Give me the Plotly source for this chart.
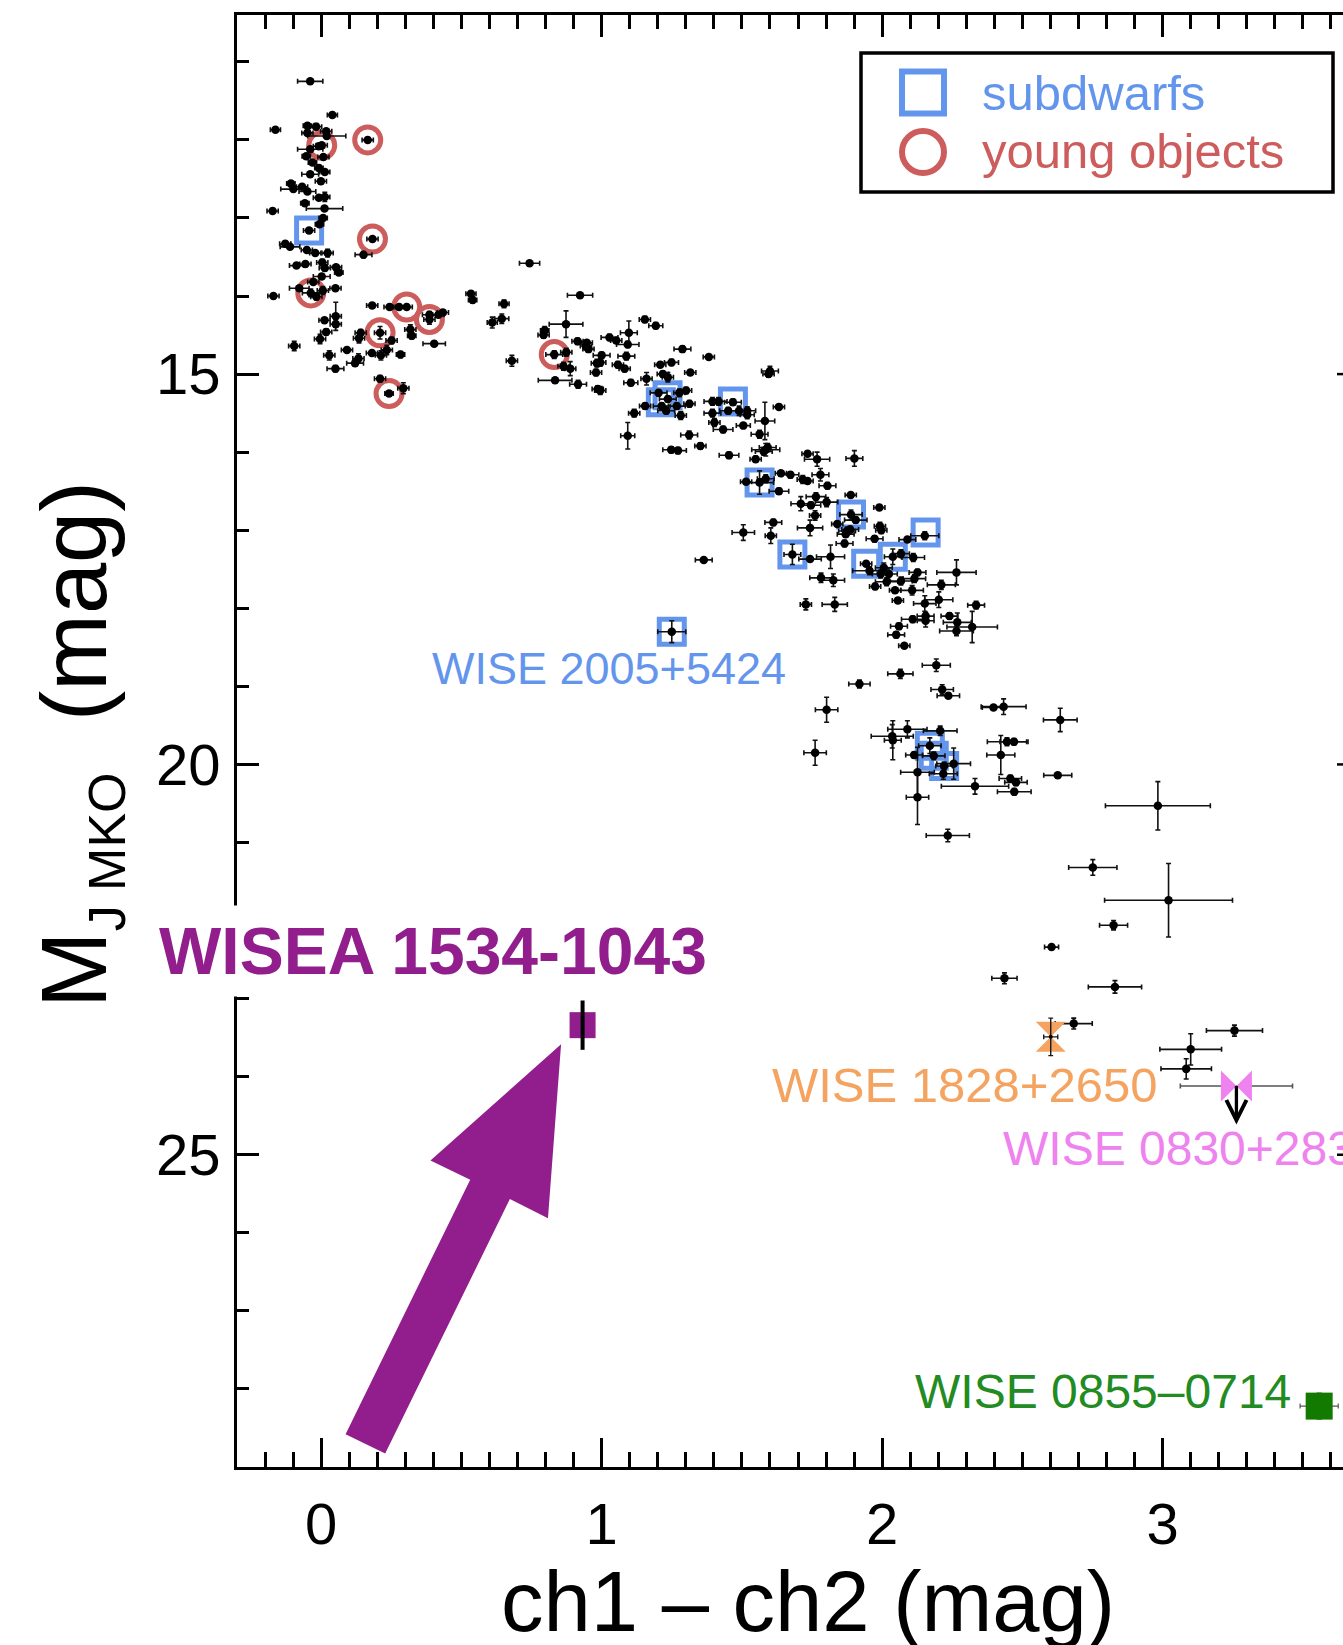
import plotly.graph_objects as go

FONT = "Liberation Sans, Arial, Helvetica, sans-serif"

# ---------------------------------------------------------------------------
# Field L/T/Y dwarfs: Spitzer ch1-ch2 colour, absolute J (MKO) and 1-sigma errors
# ---------------------------------------------------------------------------
field_color = [
    -0.039, 0.040, -0.163, -0.049, -0.018, -0.049, 0.018, 0.020, -0.008, 0.002,
    0.166, -0.039, 0.008, -0.053, -0.031, -0.008, 0.013, -0.039, -0.001, -0.108,
    -0.068, -0.099, -0.049, -0.008, 0.013, -0.058, -0.173, 0.012, 0.007, -0.006,
    -0.043, 0.183, -0.128, -0.111, -0.051, -0.021, 0.023, 0.151, -0.088, -0.056,
    0.004, 0.013, 0.053, 0.063, 0.002, -0.170, -0.078, -0.028, -0.037, -0.017,
    0.006, 0.051, 0.182, 0.244, 0.278, 0.305, 0.386, 0.386, 0.418, 0.434,
    0.210, 0.052, 0.052, 0.012, 0.018, -0.004, -0.096, 0.029, 0.051, 0.092,
    0.141, 0.135, 0.133, 0.121, 0.181, 0.213, 0.234, 0.251, 0.283, 0.318,
    0.323, 0.403, 0.210, 0.242, 0.293, 0.534, 0.540, 0.652, 0.610, 0.644,
    0.743, 0.680, 0.923, 0.797, 0.793, 0.873, 0.831, 0.874, 0.864, 0.888,
    0.834, 0.916, 0.914, 0.944, 0.953, 0.947, 1.000, 0.983, 0.995, 0.980,
    0.986, 0.995, 1.028, 1.052, 1.097, 1.093, 1.088, 1.058, 1.082, 1.104,
    1.160, 1.154, 1.193, 1.288, 1.249, 1.209, 1.218, 1.236, 1.316, 1.382,
    1.203, 1.277, 1.301, 1.236, 1.214, 1.268, 1.230, 1.282, 1.313, 1.155,
    1.116, 1.093, 1.312, 1.248, 1.272, 1.352, 1.364, 1.250, 1.600, 1.595,
    1.395, 1.417, 1.468, 1.395, 1.451, 1.490, 1.519, 1.519, 1.402, 1.433,
    1.505, 1.582, 1.632, 1.563, 1.454, 1.549, 1.585, 1.592, 1.578, 1.734,
    1.768, 1.901, 1.563, 1.515, 1.585, 1.639, 1.673, 1.717, 1.734, 1.780,
    1.805, 1.632, 1.710, 1.746, 1.764, 1.802, 1.761, 1.743, 1.888, 1.990,
    1.612, 1.505, 1.603, 1.889, 1.906, 1.840, 1.875, 1.886, 1.870, 1.866,
    1.992, 1.997, 1.973, 2.090, 2.152, 1.680, 1.743, 1.816, 1.943, 1.955,
    1.995, 2.024, 2.038, 2.067, 2.111, 2.006, 2.126, 2.265, 2.211, 2.115,
    2.067, 2.016, 1.975, 2.046, 2.107, 1.782, 1.826, 2.056, 2.152, 2.202,
    2.335, 1.728, 1.831, 2.109, 2.155, 2.155, 2.240, 2.268, 2.321, 2.265,
    2.060, 2.050, 2.079, 2.193, 2.065, 1.919, 2.214, 2.236, 1.802, 1.761,
    2.397, 2.433, 2.635, 2.090, 2.036, 2.038, 2.207, 2.170, 2.114, 2.184,
    2.255, 2.221, 2.126, 2.126, 2.218, 2.331, 2.423, 2.445, 2.470, 2.457,
    2.477, 2.471, 2.626, 2.983, 2.234, 2.751, 3.021, 2.825, 2.604, 2.436,
    2.830, 2.683, 3.256, 3.100, 3.084,
]
field_mag = [
    11.25, 11.68, 11.87, 11.82, 11.83, 11.91, 11.89, 11.95, 12.08, 12.07,
    12.00, 12.12, 12.22, 12.21, 12.29, 12.36, 12.41, 12.44, 12.53, 12.56,
    12.60, 12.63, 12.66, 12.74, 12.73, 12.81, 12.91, 12.88, 13.00, 13.08,
    13.16, 13.27, 13.33, 13.37, 13.41, 13.45, 13.45, 13.47, 13.61, 13.59,
    13.57, 13.64, 13.63, 13.70, 13.75, 14.00, 13.90, 13.82, 13.96, 14.01,
    13.93, 13.90, 14.12, 14.14, 14.14, 14.14, 14.24, 14.30, 14.24, 14.21,
    14.47, 14.26, 14.36, 14.31, 14.46, 14.55, 14.64, 14.76, 14.93, 14.69,
    14.47, 14.54, 14.80, 14.86, 14.73, 14.76, 14.69, 14.57, 14.75, 14.43,
    14.51, 14.61, 15.06, 15.25, 15.18, 13.97, 14.05, 14.10, 14.34, 14.29,
    13.58, 14.83, 13.99, 14.44, 14.50, 14.36, 14.75, 14.72, 14.90, 14.93,
    15.08, 15.13, 14.58, 14.64, 14.68, 14.60, 14.76, 14.86, 14.85, 14.98,
    15.19, 15.21, 14.53, 14.57, 14.47, 14.62, 14.77, 14.88, 14.93, 15.11,
    15.06, 14.30, 14.38, 14.68, 14.85, 14.88, 15.00, 15.04, 14.98, 14.78,
    15.24, 15.24, 15.21, 15.32, 15.41, 15.41, 15.47, 15.53, 15.38, 15.41,
    15.50, 15.79, 15.78, 15.97, 15.98, 15.92, 17.38, 18.30, 14.96, 15.00,
    15.35, 15.35, 15.36, 15.50, 15.47, 15.47, 15.47, 15.52, 15.62, 15.71,
    15.66, 15.60, 15.42, 15.77, 16.04, 16.09, 15.97, 15.94, 15.99, 16.02,
    16.09, 16.08, 16.39, 16.38, 16.34, 16.27, 16.29, 16.35, 16.37, 16.29,
    16.43, 16.50, 16.66, 16.68, 16.57, 16.64, 16.81, 16.97, 16.55, 16.71,
    16.90, 17.03, 17.07, 16.80, 16.87, 16.92, 17.01, 16.99, 17.05, 17.17,
    16.95, 17.00, 17.11, 17.12, 17.07, 17.31, 17.37, 17.34, 17.43, 17.52,
    17.56, 17.56, 17.34, 17.30, 17.35, 17.48, 17.54, 17.54, 17.70, 17.62,
    17.65, 17.66, 17.72, 17.77, 17.77, 17.61, 17.64, 17.90, 17.94, 17.89,
    17.96, 17.95, 17.95, 18.14, 18.10, 18.16, 18.10, 18.18, 18.24, 18.29,
    18.23, 18.34, 18.48, 18.73, 18.84, 18.97, 19.04, 19.12, 19.30, 19.85,
    19.27, 19.26, 19.43, 19.55, 19.64, 19.69, 19.57, 19.76, 19.88, 19.89,
    19.99, 20.02, 20.10, 20.42, 20.12, 20.28, 19.88, 19.71, 19.71, 20.18,
    20.23, 20.35, 20.14, 20.53, 20.91, 21.32, 21.74, 22.06, 22.34, 22.74,
    22.85, 23.32, 23.41, 23.65, 23.90,
]
field_color_err = [
    0.045, 0.018, 0.018, 0.015, 0.020, 0.020, 0.020, 0.068, 0.020, 0.020,
    0.020, 0.045, 0.020, 0.015, 0.015, 0.015, 0.018, 0.030, 0.020, 0.015,
    0.020, 0.045, 0.030, 0.020, 0.018, 0.015, 0.020, 0.065, 0.015, 0.015,
    0.020, 0.020, 0.020, 0.035, 0.020, 0.020, 0.020, 0.030, 0.025, 0.020,
    0.020, 0.020, 0.020, 0.015, 0.030, 0.020, 0.035, 0.020, 0.030, 0.020,
    0.020, 0.020, 0.020, 0.020, 0.020, 0.020, 0.025, 0.020, 0.020, 0.020,
    0.020, 0.020, 0.020, 0.020, 0.020, 0.020, 0.020, 0.020, 0.030, 0.020,
    0.020, 0.020, 0.020, 0.030, 0.020, 0.020, 0.020, 0.020, 0.015, 0.020,
    0.015, 0.040, 0.020, 0.015, 0.020, 0.018, 0.015, 0.018, 0.018, 0.025,
    0.036, 0.020, 0.045, 0.015, 0.020, 0.060, 0.030, 0.020, 0.020, 0.020,
    0.060, 0.030, 0.020, 0.020, 0.020, 0.020, 0.030, 0.020, 0.020, 0.020,
    0.020, 0.020, 0.030, 0.020, 0.030, 0.040, 0.030, 0.020, 0.020, 0.025,
    0.020, 0.020, 0.025, 0.030, 0.025, 0.020, 0.020, 0.020, 0.020, 0.020,
    0.030, 0.020, 0.020, 0.030, 0.030, 0.030, 0.030, 0.020, 0.020, 0.020,
    0.020, 0.025, 0.030, 0.030, 0.030, 0.020, 0.030, 0.050, 0.030, 0.020,
    0.030, 0.030, 0.030, 0.030, 0.030, 0.030, 0.030, 0.025, 0.020, 0.035,
    0.025, 0.035, 0.020, 0.030, 0.035, 0.020, 0.050, 0.030, 0.030, 0.020,
    0.045, 0.030, 0.050, 0.020, 0.030, 0.020, 0.030, 0.020, 0.020, 0.030,
    0.030, 0.035, 0.035, 0.035, 0.035, 0.040, 0.020, 0.045, 0.020, 0.020,
    0.030, 0.040, 0.020, 0.040, 0.040, 0.020, 0.030, 0.030, 0.030, 0.030,
    0.020, 0.020, 0.030, 0.030, 0.050, 0.030, 0.040, 0.050, 0.020, 0.060,
    0.030, 0.030, 0.030, 0.030, 0.040, 0.030, 0.030, 0.070, 0.050, 0.040,
    0.040, 0.040, 0.020, 0.020, 0.040, 0.040, 0.040, 0.020, 0.040, 0.050,
    0.030, 0.020, 0.045, 0.040, 0.030, 0.030, 0.030, 0.050, 0.090, 0.060,
    0.030, 0.030, 0.020, 0.050, 0.045, 0.038, 0.040, 0.040, 0.040, 0.040,
    0.040, 0.080, 0.060, 0.070, 0.075, 0.030, 0.060, 0.040, 0.030, 0.040,
    0.060, 0.030, 0.060, 0.040, 0.050, 0.120, 0.050, 0.070, 0.050, 0.040,
    0.040, 0.060, 0.050, 0.187, 0.077, 0.086, 0.228, 0.050, 0.025, 0.045,
    0.095, 0.066, 0.100, 0.110, 0.090,
]
field_mag_err = [
    0.02, 0.03, 0.03, 0.04, 0.04, 0.03, 0.03, 0.03, 0.03, 0.03,
    0.03, 0.03, 0.03, 0.03, 0.03, 0.03, 0.03, 0.03, 0.03, 0.03,
    0.03, 0.03, 0.03, 0.03, 0.06, 0.03, 0.03, 0.03, 0.03, 0.03,
    0.03, 0.03, 0.03, 0.03, 0.03, 0.03, 0.05, 0.04, 0.03, 0.03,
    0.04, 0.04, 0.03, 0.03, 0.03, 0.03, 0.03, 0.03, 0.05, 0.04,
    0.05, 0.03, 0.03, 0.03, 0.03, 0.03, 0.04, 0.06, 0.03, 0.03,
    0.08, 0.18, 0.04, 0.03, 0.04, 0.06, 0.06, 0.06, 0.04, 0.03,
    0.04, 0.06, 0.06, 0.04, 0.03, 0.06, 0.06, 0.04, 0.04, 0.06,
    0.04, 0.03, 0.04, 0.03, 0.07, 0.03, 0.04, 0.05, 0.07, 0.06,
    0.02, 0.07, 0.02, 0.05, 0.04, 0.17, 0.05, 0.05, 0.05, 0.09,
    0.03, 0.05, 0.04, 0.05, 0.04, 0.03, 0.04, 0.05, 0.05, 0.04,
    0.04, 0.05, 0.04, 0.03, 0.15, 0.04, 0.05, 0.04, 0.04, 0.04,
    0.08, 0.04, 0.04, 0.04, 0.04, 0.03, 0.04, 0.06, 0.03, 0.02,
    0.04, 0.05, 0.04, 0.04, 0.04, 0.04, 0.04, 0.05, 0.04, 0.04,
    0.05, 0.17, 0.05, 0.04, 0.04, 0.04, 0.02, 0.14, 0.06, 0.04,
    0.05, 0.05, 0.04, 0.05, 0.04, 0.06, 0.05, 0.05, 0.05, 0.04,
    0.03, 0.24, 0.02, 0.05, 0.04, 0.04, 0.08, 0.05, 0.05, 0.03,
    0.09, 0.10, 0.15, 0.03, 0.05, 0.03, 0.04, 0.05, 0.03, 0.08,
    0.04, 0.04, 0.09, 0.04, 0.05, 0.06, 0.06, 0.10, 0.02, 0.02,
    0.04, 0.10, 0.10, 0.06, 0.04, 0.03, 0.05, 0.04, 0.04, 0.04,
    0.05, 0.04, 0.04, 0.03, 0.05, 0.13, 0.03, 0.15, 0.03, 0.05,
    0.05, 0.08, 0.10, 0.05, 0.05, 0.06, 0.04, 0.16, 0.06, 0.05,
    0.05, 0.05, 0.04, 0.03, 0.06, 0.06, 0.08, 0.03, 0.10, 0.10,
    0.05, 0.07, 0.09, 0.04, 0.05, 0.08, 0.04, 0.12, 0.20, 0.06,
    0.04, 0.04, 0.02, 0.08, 0.06, 0.05, 0.06, 0.03, 0.16, 0.16,
    0.03, 0.10, 0.15, 0.11, 0.15, 0.25, 0.06, 0.10, 0.04, 0.05,
    0.20, 0.05, 0.32, 0.35, 0.07, 0.10, 0.25, 0.05, 0.04, 0.04,
    0.04, 0.04, 0.02, 0.31, 0.08, 0.10, 0.47, 0.06, 0.03, 0.07,
    0.08, 0.07, 0.07, 0.20, 0.13,
]

# Subdwarfs and young objects flagged within the field sample
subdwarf_color = [-0.043, 1.211, 1.235, 1.468, 1.563, 1.889, 2.155, 1.680,
                  1.943, 2.038, 1.250, 2.170, 2.184, 2.221]
subdwarf_mag = [13.16, 15.36, 15.27, 15.35, 16.39, 16.80, 17.03, 17.31,
                17.43, 17.34, 18.30, 19.76, 19.89, 20.02]
young_color = [0.002, 0.166, 0.183, -0.037, 0.305, 0.386, 0.210, 0.242, 0.831]
young_mag = [12.07, 12.00, 13.27, 13.96, 14.14, 14.30, 14.47, 15.25, 14.75]

# Individually labelled objects
wisea1534 = dict(name="WISEA 1534-1043", color=0.932, mag=23.34, mag_err=0.316)
wise2005 = dict(name="WISE 2005+5424", color=1.250, mag=18.30)
wise1828 = dict(name="WISE 1828+2650", color=2.601, color_err=0.025, mag=23.49, mag_err=0.24)
wise0830 = dict(name="WISE 0830+2837", color=3.263, color_err=0.200, mag=24.12)
wise0855 = dict(name="WISE 0855\u20130714", color=3.558, color_err=0.068, mag=28.22, mag_err=0.167)

# Axis ticks
x_ticks = [0, 1, 2, 3]
y_ticks = [15, 20, 25]

# Colours
BLUE = "#6495ED"
RED = "#CD5C5C"
PURPLE = "#911E8C"
ORANGE = "#F4A460"
VIOLET = "#EE82EE"
GREEN_MARK = "#137A00"
GREEN_TEXT = "#228B22"

# Page and plot-area geometry (pixels)
W, H = 1343, 1645
M_L, M_R, M_T, M_B = 237, 0, 15, 178
PLOT_W = W - M_L - M_R
PLOT_H = H - M_T - M_B
PX_PER_MAG_X = 280.5
X_RANGE = [-0.3, -0.3 + PLOT_W / PX_PER_MAG_X]
Y_RANGE = [29.0, 10.4]


def paper(xp, yp):
    """Convert page pixels to paper coordinates of the plot area."""
    return (xp - M_L) / PLOT_W, (H - M_B - yp) / PLOT_H


fig = go.Figure()

# open rings around young objects and subdwarfs (behind the field points)
fig.add_trace(go.Scatter(
    x=young_color, y=young_mag, mode="markers", hoverinfo="skip",
    marker=dict(symbol="circle-open", size=26, color=RED, line=dict(width=5, color=RED)),
))
fig.add_trace(go.Scatter(
    x=subdwarf_color, y=subdwarf_mag, mode="markers", hoverinfo="skip",
    marker=dict(symbol="square-open", size=25, color=BLUE, line=dict(width=5, color=BLUE)),
))

# field sample with error bars
fig.add_trace(go.Scatter(
    x=field_color, y=field_mag, mode="markers",
    marker=dict(size=8.5, color="black"),
    error_x=dict(type="data", array=field_color_err, color="#111111", thickness=1.6, width=2.5),
    error_y=dict(type="data", array=field_mag_err, color="#111111", thickness=1.6, width=2.5),
))

# WISE 1828+2650
fig.add_trace(go.Scatter(
    x=[wise1828["color"]], y=[wise1828["mag"]], mode="markers",
    marker=dict(symbol="hourglass", size=30, color=ORANGE, line=dict(width=0)),
))
fig.add_trace(go.Scatter(
    x=[wise1828["color"]], y=[wise1828["mag"]], mode="markers",
    marker=dict(size=4, color="black"),
    error_x=dict(type="data", array=[wise1828["color_err"]], color="#1a1a1a", thickness=1.4, width=2.4),
    error_y=dict(type="data", array=[wise1828["mag_err"]], color="#1a1a1a", thickness=1.4, width=2.4),
))

# WISE 0830+2837 (upper limit in M_J)
fig.add_trace(go.Scatter(
    x=[wise0830["color"]], y=[wise0830["mag"]], mode="markers",
    marker=dict(symbol="bowtie", size=31, color=VIOLET, line=dict(width=0)),
    error_x=dict(type="data", array=[wise0830["color_err"]], color="#555555", thickness=1.6, width=2.5),
))

# WISE 0855-0714
fig.add_trace(go.Scatter(
    x=[wise0855["color"]], y=[wise0855["mag"]], mode="markers",
    marker=dict(symbol="square", size=27, color=GREEN_MARK, line=dict(width=0)),
    error_x=dict(type="data", array=[wise0855["color_err"]], color="#555555", thickness=1.2, width=2.5),
    error_y=dict(type="data", array=[wise0855["mag_err"]], color="#555555", thickness=1.2, width=2.5),
))

# WISEA 1534-1043 with its M_J error drawn on top
fig.add_trace(go.Scatter(
    x=[wisea1534["color"]], y=[wisea1534["mag"]], mode="markers",
    marker=dict(symbol="square", size=26, color=PURPLE, line=dict(width=0)),
))
fig.add_trace(go.Scatter(
    x=[wisea1534["color"]], y=[wisea1534["mag"]], mode="markers",
    marker=dict(size=1, color="rgba(0,0,0,0)"),
    error_y=dict(type="data", array=[wisea1534["mag_err"]], color="black", thickness=4, width=0),
))

# empty trace so the mirrored top axis gets its own subplot
fig.add_trace(go.Scatter(x=[], y=[], xaxis="x2", yaxis="y", hoverinfo="skip"))

shapes = []

# big arrow pointing at WISEA 1534-1043 (pixel offsets from the square)
arrow_pts = [(-21.5, -19.0), (-34.6, -193.1), (-72.7, -173.9), (-197.4, -428.3),
             (-237.0, -409.0), (-112.4, -154.5), (-152.1, -135.3)]
arrow_path = "M " + " L ".join(f"{px:.1f},{py:.1f}" for px, py in arrow_pts) + " Z"
shapes.append(dict(
    type="path", xref="x", yref="y", xsizemode="pixel", ysizemode="pixel",
    xanchor=wisea1534["color"], yanchor=wisea1534["mag"], path=arrow_path,
    fillcolor=PURPLE, line=dict(width=0), layer="above",
))

# right-hand axis tick stubs at the page edge
for yt in y_ticks:
    shapes.append(dict(type="line", xref="paper", yref="y", x0=1 - 6 / PLOT_W, x1=1,
                       y0=yt, y1=yt, line=dict(color="black", width=2.5)))

# legend frame and symbols
lx0, ly0 = paper(861, 192)
lx1, ly1 = paper(1333, 53)
shapes.append(dict(type="rect", xref="paper", yref="paper", x0=lx0, x1=lx1, y0=ly0, y1=ly1,
                   line=dict(color="black", width=3.5), fillcolor="rgba(0,0,0,0)", layer="above"))
sq_x, sq_y = paper(923, 92.5)
shapes.append(dict(type="rect", xref="paper", yref="paper", xsizemode="pixel", ysizemode="pixel",
                   xanchor=sq_x, yanchor=sq_y, x0=-21, x1=21, y0=-21, y1=21,
                   line=dict(color=BLUE, width=6), layer="above"))
ci_x, ci_y = paper(923, 152)
shapes.append(dict(type="circle", xref="paper", yref="paper", xsizemode="pixel", ysizemode="pixel",
                   xanchor=ci_x, yanchor=ci_y, x0=-21, x1=21, y0=-21, y1=21,
                   line=dict(color=RED, width=6), layer="above"))

annotations = []
tx, ty = paper(980, 92.5)
annotations.append(dict(xref="paper", yref="paper", x=tx, y=ty, xanchor="left", yanchor="middle",
                        text="subdwarfs", showarrow=False, font=dict(family=FONT, size=49, color=BLUE)))
tx, ty = paper(980, 151)
annotations.append(dict(xref="paper", yref="paper", x=tx, y=ty, xanchor="left", yanchor="middle",
                        text="young objects", showarrow=False, font=dict(family=FONT, size=49, color=RED)))

# object labels, offset in pixels from their points
annotations.append(dict(x=wise2005["color"], y=wise2005["mag"], xanchor="left", yanchor="middle",
                        xshift=-242, yshift=-37, text=wise2005["name"], showarrow=False,
                        font=dict(family=FONT, size=45, color=BLUE)))
annotations.append(dict(x=wise1828["color"], y=wise1828["mag"], xanchor="right", yanchor="middle",
                        xshift=108, yshift=-48, text=wise1828["name"], showarrow=False,
                        font=dict(family=FONT, size=49, color=ORANGE)))
annotations.append(dict(x=wise0830["color"], y=wise0830["mag"], xanchor="left", yanchor="middle",
                        xshift=-235, yshift=-62, text=wise0830["name"], showarrow=False,
                        font=dict(family=FONT, size=48, color=VIOLET)))
annotations.append(dict(x=wise0855["color"], y=wise0855["mag"], xanchor="right", yanchor="middle",
                        xshift=-26, yshift=15, text=wise0855["name"], showarrow=False,
                        font=dict(family=FONT, size=48, color=GREEN_TEXT)))
annotations.append(dict(x=wisea1534["color"], y=wisea1534["mag"], xanchor="left", yanchor="middle",
                        xshift=-433, yshift=74, text="<b>" + wisea1534["name"] + "</b>", showarrow=False,
                        bgcolor="white", borderpad=8,
                        font=dict(family=FONT, size=66, color=PURPLE)))

# downward arrow marking the M_J upper limit of WISE 0830+2837
annotations.append(dict(x=wise0830["color"], y=wise0830["mag"], ax=0, ay=40, text="",
                        showarrow=True, arrowside="start", startarrowhead=5, startarrowsize=1.2,
                        arrowwidth=3.3, arrowcolor="black", standoff=0, startstandoff=0))

# axis titles
tx, ty = paper(808, 1601)
annotations.append(dict(xref="paper", yref="paper", x=tx, y=ty, xanchor="center", yanchor="middle",
                        text="ch1 \u2013 ch2 (mag)", showarrow=False,
                        font=dict(family=FONT, size=85, color="black")))
tx, ty = paper(80, 745)
annotations.append(dict(xref="paper", yref="paper", x=tx, y=ty, xanchor="center", yanchor="middle",
                        textangle=-90, showarrow=False,
                        text="M<sub><span style='font-size:52px'>J MKO</span></sub>  (mag)",
                        font=dict(family=FONT, size=92, color="black")))

tick_font = dict(family=FONT, size=58, color="black")
fig.update_layout(
    template="none",
    width=W, height=H, autosize=False,
    margin=dict(l=M_L, r=M_R, t=M_T, b=M_B, pad=0),
    paper_bgcolor="white", plot_bgcolor="white",
    showlegend=False, hovermode=False,
    xaxis=dict(
        range=X_RANGE, showgrid=False, zeroline=False, automargin=False,
        showline=True, linecolor="black", linewidth=3,
        ticks="inside", ticklen=29, tickwidth=2.5, tickcolor="black",
        tickvals=x_ticks, ticktext=[str(v) for v in x_ticks],
        tickfont=tick_font, ticklabelstandoff=4,
        minor=dict(dtick=0.1, tick0=0, ticks="inside", ticklen=15, tickwidth=2.5, tickcolor="black"),
    ),
    xaxis2=dict(
        range=X_RANGE, overlaying="x", side="top", anchor="y",
        showgrid=False, zeroline=False, automargin=False,
        showline=True, linecolor="black", linewidth=3,
        ticks="inside", ticklen=22, tickwidth=2.5, tickcolor="black",
        tickvals=x_ticks, showticklabels=False,
        minor=dict(dtick=0.1, tick0=0, ticks="inside", ticklen=14, tickwidth=2.5, tickcolor="black"),
    ),
    yaxis=dict(
        range=Y_RANGE, showgrid=False, zeroline=False, automargin=False,
        showline=True, linecolor="black", linewidth=3,
        ticks="inside", ticklen=22, tickwidth=2.5, tickcolor="black",
        tickvals=y_ticks, ticktext=[str(v) for v in y_ticks],
        tickfont=tick_font, ticklabelstandoff=2,
        minor=dict(dtick=1, tick0=0, ticks="inside", ticklen=12, tickwidth=2.5, tickcolor="black"),
    ),
    shapes=shapes,
    annotations=annotations,
)

fig.write_html("out.html")
